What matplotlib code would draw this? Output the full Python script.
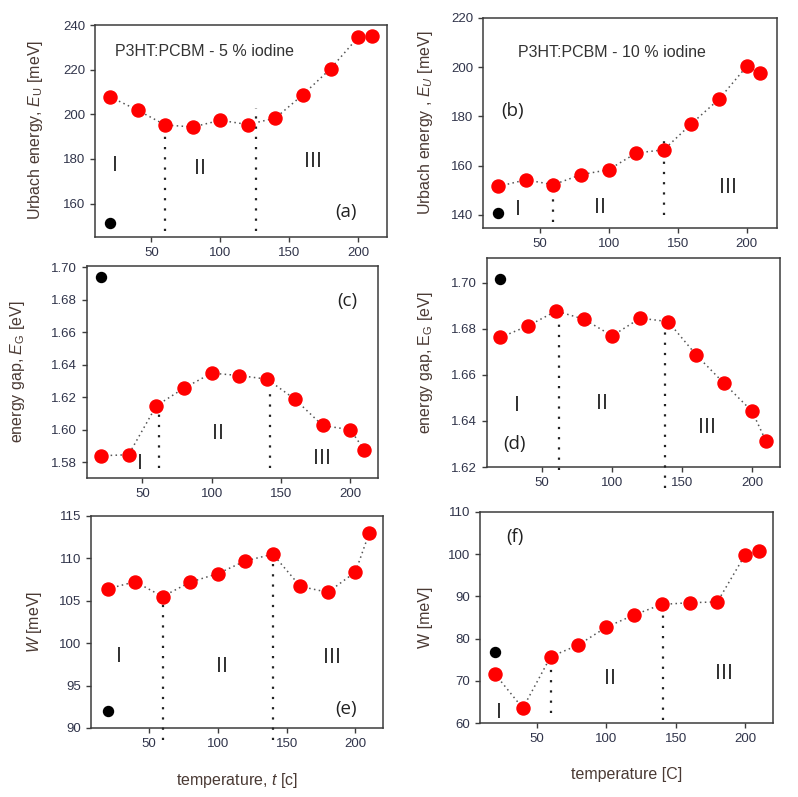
import matplotlib
matplotlib.use("Agg")
import matplotlib.pyplot as plt

plt.rcParams['font.family'] = ['Liberation Sans', 'DejaVu Sans']
plt.rcParams['mathtext.fontset'] = 'custom'
plt.rcParams['mathtext.rm'] = 'Liberation Sans'
plt.rcParams['mathtext.it'] = 'Liberation Sans:italic'

# ---- data ----
temperature = [20, 40, 60, 80, 100, 120, 140, 160, 180, 200, 210]
urbach_5 = [207.8, 201.8, 195.2, 194.3, 197.3, 195.4, 198.3, 208.8, 220.4, 234.5, 235.0]
urbach_10 = [151.5, 154.2, 152.2, 156.3, 158.3, 165.1, 166.4, 177.0, 187.0, 200.3, 197.8]
gap_5 = [1.5841, 1.5847, 1.6148, 1.6257, 1.6349, 1.6334, 1.6312, 1.6189, 1.6027, 1.6001, 1.5878]
gap_10 = [1.6762, 1.6813, 1.6877, 1.6841, 1.6769, 1.6846, 1.6831, 1.6687, 1.6563, 1.6442, 1.6312]
w_5 = [106.4, 107.25, 105.5, 107.2, 108.2, 109.7, 110.5, 106.7, 106.0, 108.4, 113.0]
w_10 = [71.6, 63.5, 75.7, 78.5, 82.7, 85.6, 88.1, 88.5, 88.7, 99.9, 100.7]

ref_t = 20
ref_vals = {'a': 151.1, 'b': 140.7, 'c': 1.6939, 'd': 1.7014, 'e': 92.0, 'f': 76.8}

# vertical region boundaries: (x, ymin, ymax)
bounds = {
    'a': [(60, 147.5, 195.0), (126, 147.5, 203.0)],
    'b': [(60, 137.0, 155.5), (140, 140.0, 170.5)],
    'c': [(62, 1.5765, 1.6103), (142, 1.5765, 1.6236)],
    'd': [(62, 1.6186, 1.6863), (138, 1.6110, 1.6835)],
    'e': [(60, 88.6, 104.7), (140, 88.6, 110.0)],
    'f': [(60, 62.4, 75.7), (141, 60.8, 88.0)],
}

W, H = 798, 797
fig = plt.figure(figsize=(W / 100, H / 100), dpi=100)

def rect(l, t, r, b):
    return [l / W, 1 - b / H, (r - l) / W, (b - t) / H]

LABEL_C = '#4a3a34'
TICK_C = '#30344a'
TEXT_C = '#333333'
SPINE_C = '#3c3c3c'

panels = [
    dict(key='a', y=urbach_5, pos=(95, 25, 387, 237), xlim=(9, 221), ylim=(145, 240),
         yticks=[160, 180, 200, 220, 240], yfmt='{:.0f}',
         ylabel='Urbach energy, $E_\\mathrm{U}$ [meV]', ylab_xy=(36, 130),
         roman=[('I', 23.4, 177), ('II', 85, 175.7), ('III', 167, 179)],
         tag=('(a)', 191, 156),
         title=('P3HT:PCBM - 5 % iodine', 23.5, 228)),
    dict(key='b', y=urbach_10, pos=(483, 18, 777, 228), xlim=(9, 222), ylim=(134.6, 220),
         yticks=[140, 160, 180, 200, 220], yfmt='{:.0f}',
         ylabel='Urbach energy , $E_U$ [meV]', ylab_xy=(425, 123),
         roman=[('I', 34, 142.3), ('II', 93.5, 143), ('III', 186.6, 151)],
         tag=('(b)', 30.4, 182),
         title=('P3HT:PCBM - 10 % iodine', 34, 205.8)),
    dict(key='c', y=gap_5, pos=(87, 266, 378, 478), xlim=(10, 220), ylim=(1.5704, 1.7008),
         yticks=[1.58, 1.60, 1.62, 1.64, 1.66, 1.68, 1.70], yfmt='{:.2f}',
         ylabel='energy gap, $E_\\mathrm{G}$ [eV]', ylab_xy=(18, 372),
         roman=[('I', 48, 1.5792), ('II', 104.7, 1.598), ('III', 179.5, 1.5826)],
         tag=('(c)', 197.6, 1.6795), title=None),
    dict(key='d', y=gap_10, pos=(487, 258, 780, 467), xlim=(10.5, 220), ylim=(1.62, 1.7107),
         yticks=[1.62, 1.64, 1.66, 1.68, 1.70], yfmt='{:.2f}',
         ylabel='energy gap, E$_\\mathrm{G}$ [eV]', ylab_xy=(425, 363),
         roman=[('I', 32, 1.6467), ('II', 92.9, 1.6474), ('III', 167.9, 1.6373)],
         tag=('(d)', 30.2, 1.6301), title=None),
    dict(key='e', y=w_5, pos=(91, 516, 383, 728), xlim=(8, 220), ylim=(90, 115),
         yticks=[90, 95, 100, 105, 110, 115], yfmt='{:.0f}',
         ylabel='$W$ [meV]', ylab_xy=(35, 622),
         roman=[('I', 28.2, 98.4), ('II', 103.2, 97.25), ('III', 183, 98.35)],
         tag=('(e)', 193.5, 92.2), title=None,
         xlabel=('temperature, $t$ [c]', 237, 780)),
    dict(key='f', y=w_10, pos=(480, 512, 773, 723), xlim=(9.2, 220), ylim=(60, 110),
         yticks=[60, 70, 80, 90, 100, 110], yfmt='{:.0f}',
         ylabel='W [meV]', ylab_xy=(425, 617),
         roman=[('I', 23.1, 62.4), ('II', 102.8, 70.6), ('III', 184.4, 71.8)],
         tag=('(f)', 34.4, 104.1), title=None,
         xlabel=('temperature [C]', 627, 775)),
]

for p in panels:
    l, t, r, b = p['pos']
    ax = fig.add_axes(rect(l, t, r, b))
    ax.set_xlim(*p['xlim'])
    ax.set_ylim(*p['ylim'])
    ax.set_xticks([50, 100, 150, 200])
    ax.set_yticks(p['yticks'])
    ax.set_yticklabels([p['yfmt'].format(v) for v in p['yticks']])
    ax.tick_params(direction='out', length=3.5, width=1, colors=SPINE_C,
                   labelcolor=TICK_C, labelsize=9.5, top=False, right=False)
    for s in ax.spines.values():
        s.set_color(SPINE_C)
        s.set_linewidth(1.1)

    # connecting dotted line + markers
    ax.plot(temperature, p['y'], linestyle=(0, (1, 2.2)), color='#555555', lw=1.1, zorder=2)
    ax.plot(temperature, p['y'], linestyle='none', marker='o', ms=9.4,
            mfc='#ff0000', mec='#ff0000', zorder=4, clip_on=False)
    ax.plot([ref_t], [ref_vals[p['key']]], linestyle='none', marker='o', ms=7.2,
            mfc='black', mec='black', zorder=5, clip_on=False)

    for (bx, y0, y1) in bounds[p['key']]:
        ax.plot([bx, bx], [y0, y1], linestyle=(0, (1, 3.6)), color='#222222', lw=1.6,
                zorder=3, clip_on=False)

    for (txt, rx, ry) in p['roman']:
        ax.text(rx, ry, txt, fontsize=15.5, color=TEXT_C, ha='center', va='center')
    tg, tx, ty = p['tag']
    ax.text(tx, ty, tg, fontsize=13.5, color='#222222', ha='center', va='center',
            family=['Open Sans', 'DejaVu Sans'])
    if p['title']:
        tt, tx, ty = p['title']
        ax.text(tx, ty, tt, fontsize=11.5, color=TEXT_C, ha='left', va='center')

    lx, ly = p['ylab_xy']
    fig.text(lx / W, 1 - ly / H, p['ylabel'], rotation=90, ha='center', va='center',
             fontsize=11.5, color=LABEL_C)
    if 'xlabel' in p:
        xt, xx, xy = p['xlabel']
        fig.text(xx / W, 1 - xy / H, xt, ha='center', va='center', fontsize=11.5,
                 color=LABEL_C)

fig.savefig('out.png', dpi=100)
